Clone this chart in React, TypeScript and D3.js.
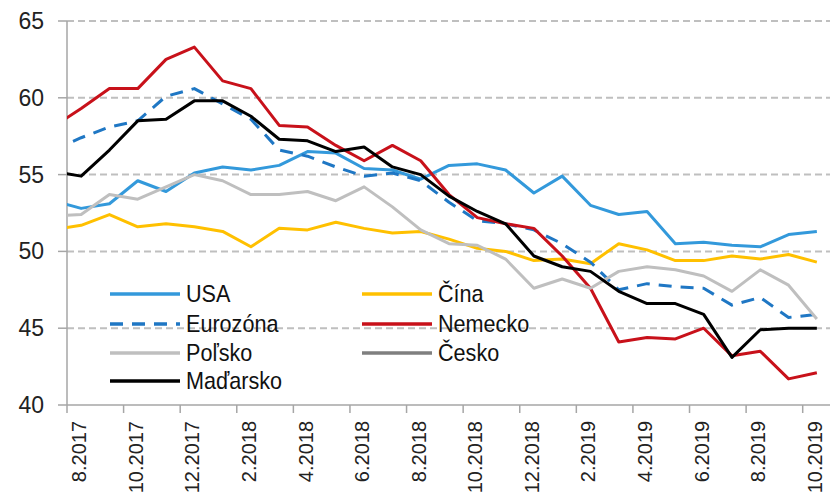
import React from "react";
import * as d3 from "d3";

// Months: first entry (7.2017) lies left of the plot and is clipped by the axis
const months = ["7.2017","8.2017","9.2017","10.2017","11.2017","12.2017","1.2018","2.2018","3.2018","4.2018","5.2018","6.2018","7.2018","8.2018","9.2018","10.2018","11.2018","12.2018","1.2019","2.2019","3.2019","4.2019","5.2019","6.2019","7.2019","8.2019","9.2019","10.2019"];
const tickLabels = ["8.2017","10.2017","12.2017","2.2018","4.2018","6.2018","8.2018","10.2018","12.2018","2.2019","4.2019","6.2019","8.2019","10.2019"];
const yTicks = [40, 45, 50, 55, 60, 65];

const usa = [53.3, 52.8, 53.1, 54.6, 53.9, 55.1, 55.5, 55.3, 55.6, 56.5, 56.4, 55.4, 55.3, 54.7, 55.6, 55.7, 55.3, 53.8, 54.9, 53.0, 52.4, 52.6, 50.5, 50.6, 50.4, 50.3, 51.1, 51.3];
const cina = [51.4, 51.7, 52.4, 51.6, 51.8, 51.6, 51.3, 50.3, 51.5, 51.4, 51.9, 51.5, 51.2, 51.3, 50.8, 50.2, 50.0, 49.4, 49.5, 49.2, 50.5, 50.1, 49.4, 49.4, 49.7, 49.5, 49.8, 49.3];
const eurozona = [56.6, 57.4, 58.1, 58.5, 60.1, 60.6, 59.6, 58.6, 56.6, 56.2, 55.5, 54.9, 55.1, 54.6, 53.2, 52.0, 51.8, 51.4, 50.5, 49.3, 47.5, 47.9, 47.7, 47.6, 46.5, 47.0, 45.7, 45.9];
const nemecko = [58.1, 59.3, 60.6, 60.6, 62.5, 63.3, 61.1, 60.6, 58.2, 58.1, 56.9, 55.9, 56.9, 55.9, 53.7, 52.2, 51.8, 51.5, 49.7, 47.6, 44.1, 44.4, 44.3, 45.0, 43.2, 43.5, 41.7, 42.1];
const polsko = [52.3, 52.4, 53.7, 53.4, 54.2, 55.0, 54.6, 53.7, 53.7, 53.9, 53.3, 54.2, 52.9, 51.4, 50.5, 50.4, 49.5, 47.6, 48.2, 47.6, 48.7, 49.0, 48.8, 48.4, 47.4, 48.8, 47.8, 45.6];
const cesko: number[] = [];
const madarsko = [55.2, 54.9, 56.6, 58.5, 58.6, 59.8, 59.8, 58.8, 57.3, 57.2, 56.5, 56.8, 55.5, 55.0, 53.6, 52.6, 51.8, 49.7, 49.0, 48.7, 47.4, 46.6, 46.6, 45.9, 43.1, 44.9, 45.0, 45.0];

const series = [
  { name: "USA", values: usa, color: "#3399DB", dash: "" },
  { name: "Čína", values: cina, color: "#FFC000", dash: "" },
  { name: "Eurozóna", values: eurozona, color: "#1F77C4", dash: "13 9" },
  { name: "Nemecko", values: nemecko, color: "#C8111A", dash: "" },
  { name: "Poľsko", values: polsko, color: "#BFBFBF", dash: "" },
  { name: "Česko", values: cesko, color: "#7F7F7F", dash: "" },
  { name: "Maďarsko", values: madarsko, color: "#000000", dash: "" },
];

const W = 830, H = 500;
const left = 67, right = 831, top = 21, bottom = 405;
const FONT = "'Liberation Sans', Arial, sans-serif";

export default function App() {
  const nVisible = months.length - 1; // 27 visible months
  const x = d3.scaleLinear().domain([0, nVisible]).range([left, right]);
  const y = d3.scaleLinear().domain([40, 65]).range([bottom, top]);
  // month index i (0 = 7.2017) -> category center
  const xc = (i: number) => x(i - 1 + 0.5);
  const line = d3.line<number>().x((_, i) => xc(i)).y((v) => y(v));

  const legendCols = [110, 362];
  const legendRows = [294, 324, 353, 381];

  return (
    <svg width={W} height={H} style={{ position: "absolute", left: 0, top: 0, background: "#fff" }} fontFamily={FONT}>
      <defs>
        <clipPath id="plot">
          <rect x={left} y={0} width={right - left} height={H} />
        </clipPath>
      </defs>
      {/* gridlines */}
      {yTicks.filter((t) => t > 40).map((t) => (
        <line key={t} x1={left} x2={830} y1={y(t)} y2={y(t)} stroke="#BFBFBF" strokeWidth={2} strokeDasharray="7 4" />
      ))}
      {/* y axis */}
      <line x1={left} x2={left} y1={top} y2={bottom} stroke="#A6A6A6" strokeWidth={1.5} />
      {yTicks.map((t) => (
        <g key={t}>
          <line x1={58} x2={left} y1={y(t)} y2={y(t)} stroke="#A6A6A6" strokeWidth={1.5} />
          <text x={44} y={y(t)} dy="0.35em" textAnchor="end" fontSize={23} fill="#222">{t}</text>
        </g>
      ))}
      {/* x axis */}
      <line x1={left} x2={830} y1={bottom} y2={bottom} stroke="#A6A6A6" strokeWidth={1.5} />
      {tickLabels.map((lab, j) => {
        const k = j * 2;
        return (
          <g key={lab}>
            <line x1={x(k)} x2={x(k)} y1={bottom} y2={bottom + 8} stroke="#A6A6A6" strokeWidth={1.5} />
            <text transform={`translate(${x(k + 0.5) - 2},${bottom + 16}) rotate(-90)`} dy="0.35em" textAnchor="end" fontSize={20} fill="#222">{lab}</text>
          </g>
        );
      })}
      {/* series lines */}
      <g clipPath="url(#plot)">
        {series.filter((s) => s.values.length > 0).map((s) => (
          <path key={s.name} d={line(s.values) || ""} fill="none" stroke={s.color} strokeWidth={3} strokeDasharray={s.dash || undefined} strokeLinejoin="round" />
        ))}
      </g>
      {/* legend */}
      {series.map((s, i) => {
        const cx = legendCols[i % 2];
        const cy = legendRows[Math.floor(i / 2)];
        return (
          <g key={s.name}>
            <line x1={cx} x2={cx + 70} y1={cy} y2={cy} stroke={s.color} strokeWidth={3.5} strokeDasharray={s.dash || undefined} />
            <text transform={`translate(${cx + 76},${cy}) scale(0.9,1)`} dy="0.35em" fontSize={24} fill="#111">{s.name}</text>
          </g>
        );
      })}
    </svg>
  );
}
